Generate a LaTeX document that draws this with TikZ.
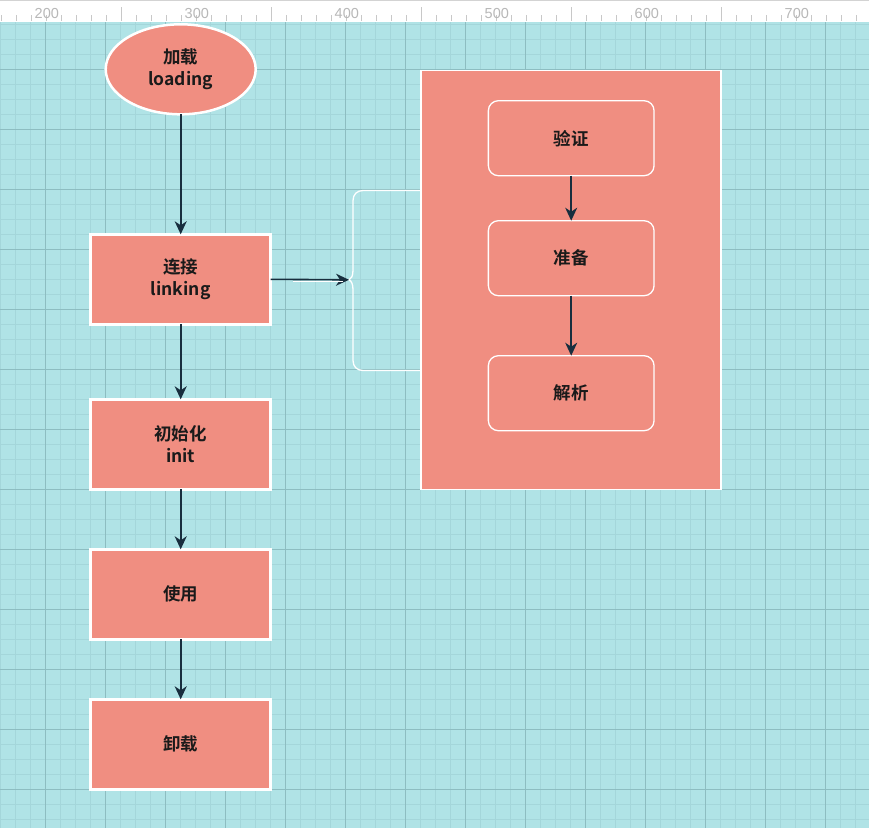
\documentclass[tikz,border=0pt]{standalone}
\usepackage{fontspec}
\newfontfamily\cjk{Noto Sans CJK SC}[BoldFont={Noto Sans CJK SC Bold}]
\newfontfamily\rulerfont{Liberation Sans}
\usetikzlibrary{arrows.meta,shapes.geometric}
\definecolor{canvas}{HTML}{B0E3E6}
\definecolor{gridminor}{HTML}{A4D6DA}
\definecolor{gridmajor}{HTML}{8DBDC1}
\definecolor{salmon}{HTML}{F08E81}
\definecolor{ink}{HTML}{1A1A1A}
\definecolor{edge}{HTML}{182E3E}
\definecolor{tickgray}{HTML}{C8C8C8}
\definecolor{rulertext}{HTML}{B8B8B8}

\tikzset{
  label text/.style={font=\cjk\bfseries\fontsize{17.5}{22}\selectfont, text=ink, align=center},
  stagebox/.style={label text, draw=white, line width=2.5pt, fill=salmon,
    minimum width=180pt, minimum height=90pt, inner sep=0pt, outer sep=0pt},
  stageoval/.style={label text, ellipse, draw=white, line width=2.5pt, fill=salmon,
    minimum width=150pt, minimum height=90pt, inner sep=0pt, outer sep=0pt},
  subbox/.style={label text, draw=white, line width=1.3pt, rounded corners=10pt, fill=salmon,
    minimum width=165.7pt, minimum height=75pt, inner sep=0pt, outer sep=0pt},
  groupbox/.style={draw=white, line width=1.3pt, fill=salmon,
    minimum width=300pt, minimum height=419pt, inner sep=0pt, outer sep=0pt},
  flow/.style={draw=edge, line width=1.6pt, -{Stealth[length=13pt,width=12pt,inset=4pt]}},
  bracket/.style={draw=white, line width=1.3pt},
  rulerlabel/.style={font=\rulerfont\fontsize{14.5}{15}\selectfont, text=rulertext,
    anchor=base west, inner sep=0pt},
}

\begin{document}
\begin{tikzpicture}[x=1pt,y=-1pt]
  \useasboundingbox (0,0) rectangle (869,828);

  % canvas and grid
  \fill[canvas] (0,22) rectangle (869,828);
  \foreach \i in {0,...,57} {
    \draw[gridminor, line width=1pt] ({0.7+15*\i},22) -- ({0.7+15*\i},828);
  }
  \foreach \j in {0,...,53} {
    \draw[gridminor, line width=1pt] (0,{24.3+15*\j}) -- (869,{24.3+15*\j});
  }
  \foreach \i in {0,...,13} {
    \draw[gridmajor, line width=1pt] ({45.7+60*\i},22) -- ({45.7+60*\i},828);
  }
  \foreach \j in {0,...,12} {
    \draw[gridmajor, line width=1pt] (0,{69.3+60*\j}) -- (869,{69.3+60*\j});
  }

  % ruler
  \fill[white] (0,0) rectangle (869,22);
  \draw[tickgray!80, line width=1.5pt] (0,0.7) -- (869,0.7);
  \foreach \i in {0,...,57} {
    \draw[tickgray, line width=1pt] ({1.7+15*\i},15) -- ({1.7+15*\i},21);
  }
  \foreach \i in {0,...,4} {
    \draw[tickgray, line width=1pt] ({121.7+150*\i},7) -- ({121.7+150*\i},21);
  }
  \foreach \v [count=\k from 0] in {200,300,400,500,600,700} {
    \node[rulerlabel] (rl\v) at ({34.5+150*\k},18.5) {\v};
  }

  % life-cycle stages
  \node[stageoval] (load)   at (180.7,69.3)  {加载\\loading};
  \node[stagebox]  (link)   at (180.7,279.3) {连接\\linking};
  \node[stagebox]  (init)   at (180.7,444.3) {初始化\\init};
  \node[stagebox]  (use)    at (180.7,594.3) {使用};
  \node[stagebox]  (unload) at (180.7,744.3) {卸载};

  % linking sub-phases
  \node[groupbox] (phase) at (571,280) {};
  \node[subbox] (verify)  at (571.2,138.2) {验证};
  \node[subbox] (prepare) at (571.2,258.2) {准备};
  \node[subbox] (resolve) at (571.2,393.2) {解析};

  % curly bracket joining the linking stage to its sub-phases
  \coordinate (bracetip) at (349,279.8);
  \draw[bracket] (phase.west |- 0,190.5) -- (363,190.5)
    .. controls (357,190.5) and (353,194.5) .. (353,200.5) -- (353,270)
    .. controls (353,276) and (351.5,278.5) .. (bracetip)
    .. controls (351.5,281) and (353,284) .. (353,290) -- (353,360.5)
    .. controls (353,366.5) and (357,370.5) .. (363,370.5) -- (phase.west |- 0,370.5);

  % connectors
  \draw[flow] (load) -- (link);
  \draw[flow] (link) -- (init);
  \draw[flow] (init) -- (use);
  \draw[flow] (use) -- (unload);
  \draw[flow] (verify) -- (prepare);
  \draw[flow] (prepare) -- (resolve);
  \draw[flow] (link.east) -- (bracetip);
  \draw[white, line width=1pt] (293,281) -- (343,281);
\end{tikzpicture}
\end{document}
